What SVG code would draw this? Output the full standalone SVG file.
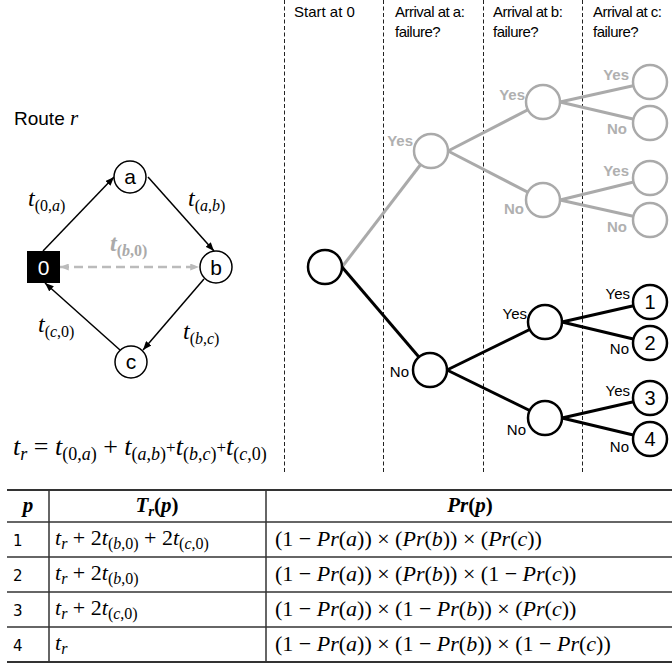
<svg xmlns="http://www.w3.org/2000/svg" width="672" height="668" viewBox="0 0 672 668">
<defs>
<style>
.m{font-family:"Liberation Serif","Times New Roman",serif}
.i{font-style:italic}
.b{font-weight:bold}
.node{fill:#fff;stroke:#000;stroke-width:1.5}
.nl{font-family:"Liberation Sans",Arial,sans-serif;font-size:21px;text-anchor:middle}
.edge{stroke:#000;stroke-width:1.5;fill:none;marker-end:url(#ah)}
.col{stroke:#222;stroke-width:1;stroke-dasharray:4,2.5}
.tg{stroke:#aaa;stroke-width:3;fill:none}
.tb{stroke:#000;stroke-width:3;fill:none}
.cg{fill:#fff;stroke:#aaa;stroke-width:2.5}
.cb{fill:#fff;stroke:#000;stroke-width:2.5}
.lg{font-family:"Liberation Sans",Arial,sans-serif;font-size:15px;font-weight:bold;fill:#b0b0b0;text-anchor:end}
.lb{font-family:"Liberation Sans",Arial,sans-serif;font-size:15px;fill:#000;text-anchor:end}
.hd{font-family:"Liberation Sans",Arial,sans-serif;font-size:15px;fill:#000}
.leaf{font-family:"Liberation Sans",Arial,sans-serif;font-size:20px;text-anchor:middle}
.tl{stroke:#333;stroke-width:1.5}
.num{font-family:"DejaVu Sans",sans-serif;font-size:15px}
</style>
<marker id="ah" viewBox="0 0 10 8" refX="10" refY="4" markerWidth="9" markerHeight="7" markerUnits="userSpaceOnUse" orient="auto"><path d="M0,0 L10,4 L0,8 z" fill="#000"/></marker>
<marker id="ahg" viewBox="0 0 10 8" refX="10" refY="4" markerWidth="9" markerHeight="7" markerUnits="userSpaceOnUse" orient="auto-start-reverse"><path d="M0,0 L10,4 L0,8 z" fill="#bbb"/></marker>
</defs>
<rect width="672" height="668" fill="#fff"/>

<!-- Route diagram -->
<text x="14" y="125" font-family="Liberation Sans, Arial, sans-serif" font-size="19">Route <tspan class="m i" font-size="21">r</tspan></text>

<g id="route-edges">
<line class="edge" x1="43" y1="251" x2="114" y2="177"/>
<line class="edge" x1="148" y1="177" x2="214" y2="251"/>
<line class="edge" x1="204" y1="279" x2="143" y2="350"/>
<line class="edge" x1="120" y1="350" x2="45" y2="283"/>
<line x1="60" y1="267" x2="199" y2="267" stroke="#bbb" stroke-width="2.5" stroke-dasharray="9,5" marker-start="url(#ahg)" marker-end="url(#ahg)"/>
</g>
<g id="node-0"><rect x="27" y="251" width="33" height="32" fill="#000"/><text class="nl" x="43.5" y="274.5" fill="#fff">0</text></g>
<g id="node-a"><circle class="node" cx="130" cy="177" r="16"/><text class="nl" x="130" y="184">a</text></g>
<g id="node-b"><circle class="node" cx="216" cy="267" r="16"/><text class="nl" x="216" y="274.5">b</text></g>
<g id="node-c"><circle class="node" cx="131" cy="362" r="16"/><text class="nl" x="131" y="369">c</text></g>

<g id="route-labels" class="m">
<text x="28" y="206" font-size="24"><tspan class="i">t</tspan><tspan font-size="16" dy="5">(0,<tspan class="i">a</tspan>)</tspan></text>
<text x="188" y="206" font-size="24"><tspan class="i">t</tspan><tspan font-size="16" dy="5">(<tspan class="i">a</tspan>,<tspan class="i">b</tspan>)</tspan></text>
<text x="110" y="251" font-size="24" fill="#aaa" font-weight="bold"><tspan class="i">t</tspan><tspan font-size="16" dy="5">(<tspan class="i">b</tspan>,0)</tspan></text>
<text x="38" y="332" font-size="24"><tspan class="i">t</tspan><tspan font-size="16" dy="5">(<tspan class="i">c</tspan>,0)</tspan></text>
<text x="183" y="339" font-size="24"><tspan class="i">t</tspan><tspan font-size="16" dy="5">(<tspan class="i">b</tspan>,<tspan class="i">c</tspan>)</tspan></text>
<text x="13" y="455" font-size="26"><tspan class="i">t</tspan><tspan font-size="18" dy="5" class="i">r</tspan><tspan dy="-5"> = </tspan><tspan class="i">t</tspan><tspan font-size="18" dy="5">(0,<tspan class="i">a</tspan>)</tspan><tspan dy="-5"> + </tspan><tspan class="i">t</tspan><tspan font-size="18" dy="5">(<tspan class="i">a</tspan>,<tspan class="i">b</tspan>)</tspan><tspan font-size="17" dy="-7">+</tspan><tspan class="i" dy="2">t</tspan><tspan font-size="18" dy="5">(<tspan class="i">b</tspan>,<tspan class="i">c</tspan>)</tspan><tspan font-size="17" dy="-7">+</tspan><tspan class="i" dy="2">t</tspan><tspan font-size="18" dy="5">(<tspan class="i">c</tspan>,0)</tspan></text>
</g>

<!-- Decision tree columns -->
<g id="columns">
<line class="col" x1="284.5" y1="0" x2="284.5" y2="474"/>
<line class="col" x1="383.5" y1="0" x2="383.5" y2="474"/>
<line class="col" x1="483.5" y1="0" x2="483.5" y2="474"/>
<line class="col" x1="582.5" y1="0" x2="582.5" y2="474"/>
<text class="hd" x="294" y="17">Start at 0</text>
<text class="hd" x="395" y="17" letter-spacing="-0.5">Arrival at a:</text>
<text class="hd" x="395" y="37" letter-spacing="-0.5">failure?</text>
<text class="hd" x="493" y="17" letter-spacing="-0.5">Arrival at b:</text>
<text class="hd" x="493" y="37" letter-spacing="-0.5">failure?</text>
<text class="hd" x="593" y="17" letter-spacing="-0.5">Arrival at c:</text>
<text class="hd" x="593" y="37" letter-spacing="-0.5">failure?</text>
</g>

<g id="tree-connectors">
<line class="tg" x1="342" y1="267" x2="431" y2="151"/>
<line class="tg" x1="448" y1="151" x2="543" y2="102"/>
<line class="tg" x1="448" y1="151" x2="543" y2="200"/>
<line class="tg" x1="560" y1="102" x2="650" y2="82"/>
<line class="tg" x1="560" y1="102" x2="650" y2="123"/>
<line class="tg" x1="560" y1="200" x2="650" y2="178"/>
<line class="tg" x1="560" y1="200" x2="650" y2="220"/>
<line class="tb" x1="342" y1="267" x2="430" y2="370"/>
<line class="tb" x1="447" y1="370" x2="545" y2="322"/>
<line class="tb" x1="447" y1="370" x2="545" y2="418"/>
<line class="tb" x1="562" y1="322" x2="650" y2="302"/>
<line class="tb" x1="562" y1="322" x2="650" y2="343"/>
<line class="tb" x1="562" y1="418" x2="650" y2="398"/>
<line class="tb" x1="562" y1="418" x2="650" y2="439"/>
</g>

<g id="tree-root"><circle class="cb" cx="325" cy="267" r="17"/></g>
<g id="tree-a-yes"><circle class="cg" cx="431" cy="151" r="17"/><text class="lg" x="413" y="146">Yes</text></g>
<g id="tree-ay-b-yes"><circle class="cg" cx="543" cy="102" r="17"/><text class="lg" x="525" y="100">Yes</text></g>
<g id="tree-ay-b-no"><circle class="cg" cx="543" cy="200" r="17"/><text class="lg" x="524" y="214">No</text></g>
<g id="tree-ayby-c-yes"><circle class="cg" cx="650" cy="82" r="17"/><text class="lg" x="629" y="80">Yes</text></g>
<g id="tree-ayby-c-no"><circle class="cg" cx="650" cy="123" r="17"/><text class="lg" x="627" y="134">No</text></g>
<g id="tree-aybn-c-yes"><circle class="cg" cx="650" cy="178" r="17"/><text class="lg" x="629" y="176">Yes</text></g>
<g id="tree-aybn-c-no"><circle class="cg" cx="650" cy="220" r="17"/><text class="lg" x="627" y="232">No</text></g>

<g id="tree-a-no"><circle class="cb" cx="430" cy="370" r="17"/><text class="lb" x="409" y="377">No</text></g>
<g id="tree-an-b-yes"><circle class="cb" cx="545" cy="322" r="17"/><text class="lb" x="527" y="319">Yes</text></g>
<g id="tree-an-b-no"><circle class="cb" cx="545" cy="418" r="17"/><text class="lb" x="526" y="435">No</text></g>
<g id="leaf-1"><circle class="cb" cx="650" cy="302" r="17"/><text class="leaf" x="650" y="309">1</text><text class="lb" x="630" y="299">Yes</text></g>
<g id="leaf-2"><circle class="cb" cx="650" cy="343" r="17"/><text class="leaf" x="650" y="350">2</text><text class="lb" x="629" y="354">No</text></g>
<g id="leaf-3"><circle class="cb" cx="650" cy="398" r="17"/><text class="leaf" x="650" y="405">3</text><text class="lb" x="630" y="396">Yes</text></g>
<g id="leaf-4"><circle class="cb" cx="650" cy="439" r="17"/><text class="leaf" x="650" y="446">4</text><text class="lb" x="629" y="452">No</text></g>

<!-- Table -->
<g id="table">
<line x1="7" y1="490" x2="672" y2="490" stroke="#333" stroke-width="2"/>
<line class="tl" x1="7" y1="522" x2="672" y2="522"/>
<line class="tl" x1="7" y1="557" x2="672" y2="557"/>
<line class="tl" x1="7" y1="592" x2="672" y2="592"/>
<line class="tl" x1="7" y1="627" x2="672" y2="627"/>
<line x1="7" y1="662" x2="672" y2="662" stroke="#333" stroke-width="2"/>
<line class="tl" x1="49" y1="490" x2="49" y2="662"/>
<line class="tl" x1="266" y1="490" x2="266" y2="662"/>

<text class="m i b" x="28" y="512" font-size="21" text-anchor="middle">p</text>
<text class="m b" x="157" y="512" font-size="21" text-anchor="middle"><tspan class="i">T</tspan><tspan class="i" font-size="15" dy="4">r</tspan><tspan dy="-4">(</tspan><tspan class="i">p</tspan>)</text>
<text class="m b" x="470" y="512" font-size="21" text-anchor="middle"><tspan class="i">Pr</tspan>(<tspan class="i">p</tspan>)</text>

<text class="num" x="13" y="546">1</text>
<text class="num" x="13" y="581">2</text>
<text class="num" x="13" y="616">3</text>
<text class="num" x="13" y="651">4</text>

<text class="m" x="55" y="545" font-size="22"><tspan class="i">t</tspan><tspan class="i" font-size="16" dy="4">r</tspan><tspan dy="-4"> + 2</tspan><tspan class="i">t</tspan><tspan font-size="16" dy="4">(<tspan class="i">b</tspan>,0)</tspan><tspan dy="-4"> + 2</tspan><tspan class="i">t</tspan><tspan font-size="16" dy="4">(<tspan class="i">c</tspan>,0)</tspan></text>
<text class="m" x="55" y="580" font-size="22"><tspan class="i">t</tspan><tspan class="i" font-size="16" dy="4">r</tspan><tspan dy="-4"> + 2</tspan><tspan class="i">t</tspan><tspan font-size="16" dy="4">(<tspan class="i">b</tspan>,0)</tspan></text>
<text class="m" x="55" y="615" font-size="22"><tspan class="i">t</tspan><tspan class="i" font-size="16" dy="4">r</tspan><tspan dy="-4"> + 2</tspan><tspan class="i">t</tspan><tspan font-size="16" dy="4">(<tspan class="i">c</tspan>,0)</tspan></text>
<text class="m" x="55" y="650" font-size="22"><tspan class="i">t</tspan><tspan class="i" font-size="16" dy="4">r</tspan></text>

<text class="m" x="275" y="546" font-size="22">(1 &#8722; <tspan class="i">Pr</tspan>(<tspan class="i">a</tspan>)) &#215; (<tspan class="i">Pr</tspan>(<tspan class="i">b</tspan>)) &#215; (<tspan class="i">Pr</tspan>(<tspan class="i">c</tspan>))</text>
<text class="m" x="275" y="581" font-size="22">(1 &#8722; <tspan class="i">Pr</tspan>(<tspan class="i">a</tspan>)) &#215; (<tspan class="i">Pr</tspan>(<tspan class="i">b</tspan>)) &#215; (1 &#8722; <tspan class="i">Pr</tspan>(<tspan class="i">c</tspan>))</text>
<text class="m" x="275" y="616" font-size="22">(1 &#8722; <tspan class="i">Pr</tspan>(<tspan class="i">a</tspan>)) &#215; (1 &#8722; <tspan class="i">Pr</tspan>(<tspan class="i">b</tspan>)) &#215; (<tspan class="i">Pr</tspan>(<tspan class="i">c</tspan>))</text>
<text class="m" x="275" y="651" font-size="22">(1 &#8722; <tspan class="i">Pr</tspan>(<tspan class="i">a</tspan>)) &#215; (1 &#8722; <tspan class="i">Pr</tspan>(<tspan class="i">b</tspan>)) &#215; (1 &#8722; <tspan class="i">Pr</tspan>(<tspan class="i">c</tspan>))</text>
</g>
</svg>
